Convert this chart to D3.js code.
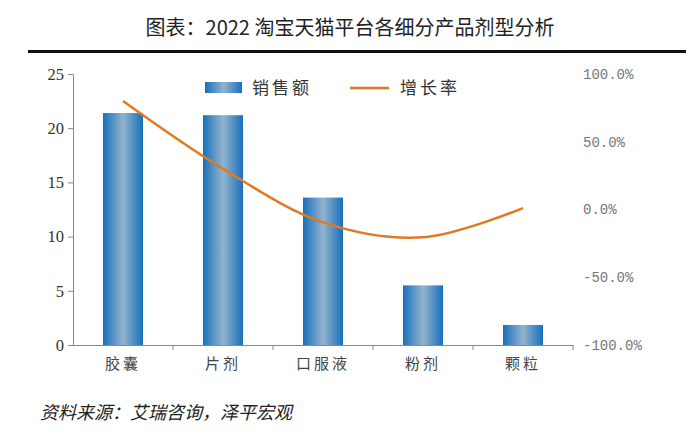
<!DOCTYPE html>
<html><head><meta charset="utf-8">
<script src="https://cdn.jsdelivr.net/npm/d3@7/dist/d3.min.js"></script>
<style>body{margin:0;background:#fff;}svg{display:block;}</style>
</head><body>
<script>
const categories = ["胶囊","片剂","口服液","粉剂","颗粒"];
const sales = [21.4, 21.2, 13.6, 5.5, 1.85];
const growth = [0.80, 0.30, -0.095, -0.205, 0.01];
const leftTicks = [0,5,10,15,20,25];
const rightTicks = [1,0.5,0,-0.5,-1];
const rightTickLabels = ["100.0%","50.0%","0.0%","-50.0%","-100.0%"];

const W=700,H=448;
const svg=d3.select("body").append("svg").attr("width",W).attr("height",H);
const defs=svg.append("defs");
const g=defs.append("linearGradient").attr("id","barGrad").attr("x1","0").attr("x2","1").attr("y1","0").attr("y2","0");
g.append("stop").attr("offset","0%").attr("stop-color","#1870bd");
g.append("stop").attr("offset","50%").attr("stop-color","#93b3cc");
g.append("stop").attr("offset","100%").attr("stop-color","#1870bd");

svg.append("text").attr("x",350).attr("y",35).attr("text-anchor","middle")
  .attr("font-family","'Noto Sans CJK SC',sans-serif").attr("font-size",20).attr("fill","#222")
  .text("图表：2022 淘宝天猫平台各细分产品剂型分析");
svg.append("rect").attr("x",28).attr("y",50).attr("width",658).attr("height",3).attr("fill","#111");

const x=d3.scaleBand().domain(categories).range([73,573]).paddingInner(0.6).paddingOuter(0.3);
const xb=d3.scaleBand().domain(categories).range([73,573]);
const y=d3.scaleLinear().domain([0,25]).range([345,74]);
const y2=d3.scaleLinear().domain([-1,1]).range([345,74]);

svg.append("g").selectAll("rect").data(sales).join("rect")
  .attr("x",(d,i)=>x(categories[i])).attr("width",x.bandwidth())
  .attr("y",d=>y(d)).attr("height",d=>y(0)-y(d)).attr("fill","url(#barGrad)");

// left axis
const la=svg.append("g").attr("transform","translate(73,0)")
  .call(d3.axisLeft(y).tickValues(leftTicks).tickSize(5).tickPadding(4));
la.select(".domain").attr("stroke","#888");
la.selectAll(".tick line").attr("stroke","#888");
la.selectAll("text").attr("font-family","'Liberation Serif',serif").attr("font-size",16.5).attr("fill","#333");

// x axis
const xa=svg.append("g").attr("transform","translate(0,345)")
  .call(d3.axisBottom(xb).tickSize(0).tickPadding(10));
xa.select(".domain").attr("stroke","#888");
xa.selectAll("text").attr("font-family","'Noto Sans CJK SC',sans-serif").attr("font-size",15).attr("fill","#444").attr("letter-spacing","3px").attr("dy","0.9em");
svg.append("g").selectAll("line").data(categories).join("line")
  .attr("x1",d=>xb(d)+xb.bandwidth()).attr("x2",d=>xb(d)+xb.bandwidth())
  .attr("y1",345).attr("y2",350).attr("stroke","#888");

// right axis labels
const ra=svg.append("g").attr("transform","translate(583,0)")
  .call(d3.axisRight(y2).tickValues(rightTicks).tickSize(0).tickPadding(0).tickFormat((d,i)=>rightTickLabels[i]));
ra.select(".domain").remove();
ra.selectAll("text").attr("font-family","'Liberation Mono',monospace").attr("font-size",14).attr("fill","#777");

// line
const line=d3.line().x((d,i)=>xb(categories[i])+xb.bandwidth()/2).y(d=>y2(d)).curve(d3.curveCatmullRom.alpha(0.5));
svg.append("path").datum(growth).attr("d",line).attr("fill","none").attr("stroke","#e07a22").attr("stroke-width",2.5);

// legend
svg.append("rect").attr("x",205).attr("y",82).attr("width",37).attr("height",11).attr("fill","url(#barGrad)");
svg.append("text").attr("x",252).attr("y",94).attr("font-family","'Noto Sans CJK SC',sans-serif").attr("font-size",17).attr("fill","#333").attr("letter-spacing","3px").text("销售额");
svg.append("line").attr("x1",350).attr("x2",389).attr("y1",88).attr("y2",88).attr("stroke","#e07a22").attr("stroke-width",2.5);
svg.append("text").attr("x",400).attr("y",94).attr("font-family","'Noto Sans CJK SC',sans-serif").attr("font-size",17).attr("fill","#333").attr("letter-spacing","3px").text("增长率");

svg.append("text").attr("x",40).attr("y",419).attr("font-family","'Noto Sans CJK SC',sans-serif").attr("font-size",18).attr("font-style","italic").attr("fill","#222")
  .text("资料来源：艾瑞咨询，泽平宏观");
</script>
</body></html>
